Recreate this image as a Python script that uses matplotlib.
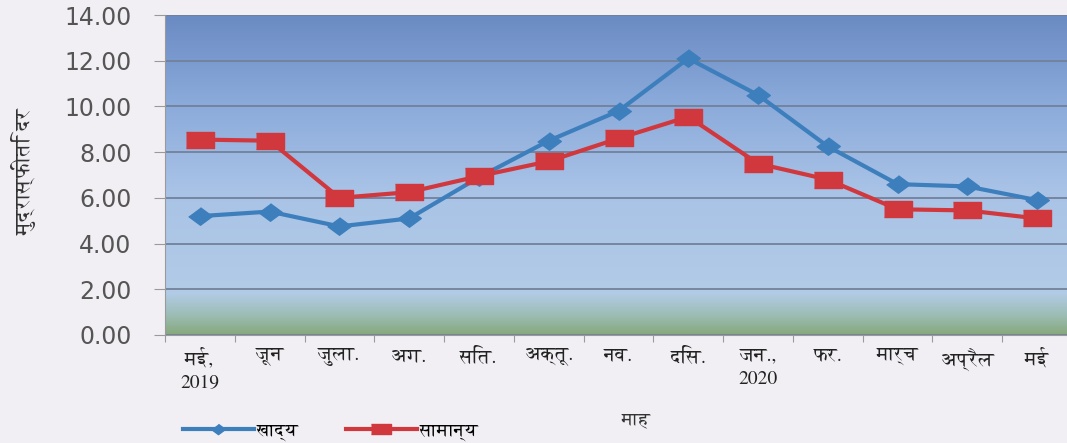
import matplotlib
matplotlib.use("Agg")
import matplotlib.pyplot as plt
import numpy as np
from matplotlib.colors import LinearSegmentedColormap
from matplotlib.lines import Line2D

months = ["मई,\n2019", "जून", "जुला.", "अग.", "सित.", "अक्तू.", "नव.",
          "दिस.", "जन.,\n2020", "फर.", "मार्च", "अप्रैल", "मई"]
food = [5.2, 5.4, 4.75, 5.1, 6.9, 8.5, 9.8, 12.1, 10.5, 8.25, 6.6, 6.5, 5.9]
general = [8.55, 8.5, 6.0, 6.25, 6.95, 7.6, 8.6, 9.55, 7.5, 6.8, 5.5, 5.45, 5.1]
series_names = ["खाद्य", "सामान्य"]
yticks = [0, 2, 4, 6, 8, 10, 12, 14]

plt.rcParams['font.family'] = ['FreeSerif', 'Noto Serif Devanagari', 'DejaVu Sans']

BLUE = "#3d7fbd"
RED = "#d0383e"

fig = plt.figure(figsize=(10.67, 4.43), dpi=100, facecolor="#f1eff3")
ax = fig.add_axes([165 / 1067, 1 - 335 / 443, 907 / 1067, 320 / 443])
ax.set_facecolor("none")

# gradient background of the plot area
stops = [(0.0, "#86a87c"), (0.06, "#9cbdb4"), (0.13, "#b2cbe6"),
         (0.45, "#a9c3e7"), (0.75, "#88a8d9"), (1.0, "#6a8ac3")]
cmap = LinearSegmentedColormap.from_list("bg", stops)
grad = np.linspace(0, 1, 256).reshape(-1, 1)
ax.imshow(grad, cmap=cmap, origin="lower", aspect="auto",
          extent=[-0.5, 12.5, 0, 14], zorder=0)

x = np.arange(len(months))
diamond = [(-1.35, 0), (0, -1), (1.35, 0), (0, 1)]
rect = [(-1.8, -1), (1.8, -1), (1.8, 1), (-1.8, 1)]
ax.plot(x, food, color=BLUE, lw=3, marker=diamond, ms=17,
        mfc=BLUE, mec=BLUE, zorder=3)
ax.plot(x, general, color=RED, lw=3, marker=rect, ms=20,
        mfc=RED, mec=RED, zorder=3)

ax.set_xlim(-0.5, 12.5)
ax.set_ylim(0, 14)
ax.set_yticks(yticks)
ax.set_yticklabels([f"{v:.2f}" for v in yticks], fontsize=17, color="#555555",
                   family="DejaVu Sans")
ax.yaxis.grid(True, color="#72819a", lw=1.3)
for s in ["top", "right"]:
    ax.spines[s].set_visible(False)
for s in ["left", "bottom"]:
    ax.spines[s].set_color("#9a9a9a")
ax.tick_params(axis="y", length=8, color="#9a9a9a", pad=16)

ax.set_xticks(np.arange(-0.5, 12.6, 1))
ax.set_xticklabels([])
ax.tick_params(axis="x", length=5, color="#9a9a9a")
for i, m in enumerate(months):
    ax.text(i, -0.55, m, ha="center", va="top", fontsize=14, color="#222222",
            linespacing=1.5)

fig.text(24 / 1067, 1 - 172 / 443, "मुद्रास्फीति दर", rotation=90, ha="center",
         va="center", fontsize=15, color="#333333")
fig.text(636 / 1067, 1 - 420 / 443, "माह", ha="center", va="center",
         fontsize=13, color="#333333")

handles = [Line2D([], [], color=BLUE, lw=3, marker=diamond, ms=10),
           Line2D([], [], color=RED, lw=3, marker=rect, ms=14)]
fig.legend(handles, series_names, loc="center left",
           bbox_to_anchor=(176 / 1067, 1 - 432 / 443), ncol=2, frameon=False,
           fontsize=13, handlelength=3.9, columnspacing=2.6, handletextpad=0.2,
           borderaxespad=0)

fig.savefig("out.png", dpi=100, facecolor=fig.get_facecolor())
